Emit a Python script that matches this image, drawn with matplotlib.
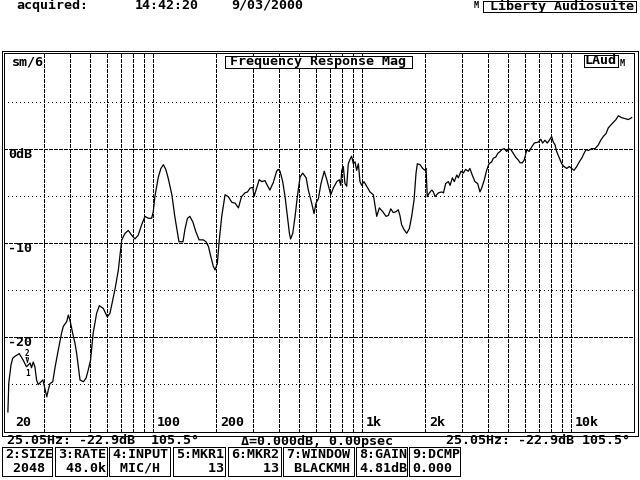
import matplotlib
matplotlib.use("Agg")
import matplotlib.pyplot as plt
from matplotlib.patches import Rectangle

# ---------------- data ----------------
freq_hz = [20.2, 20.4, 20.9, 21.3, 21.8, 22.9, 23.9, 24.8, 25.8, 26.2, 26.7, 27.2, 27.7, 28.2,
           28.8, 29.7, 30.2, 31.0, 31.5, 32.1, 33.1, 34.0, 35.2, 36.5, 37.2, 38.6, 39.3, 40.0,
           41.2, 42.3, 43.1, 43.9, 44.7, 46.4, 47.8, 49.0, 50.2, 51.7, 53.7, 55.3, 57.8, 60.4,
           62.2, 65.8, 68.2, 70.8, 73.4, 76.1, 79.0, 81.9, 84.9, 88.1, 91.5, 94.8, 98.4, 100.2,
           102, 106, 109, 112, 115, 118, 123, 127, 132, 133, 139, 142, 146, 150, 155, 160, 166,
           174, 179, 184, 189, 194, 198, 203, 207, 213, 221, 229, 238, 247, 256, 265, 275, 283,
           291, 300, 304, 313, 322, 331, 343, 352, 362, 376, 390, 397, 405, 417, 428, 439, 449,
           455, 466, 478, 490, 505, 520, 540, 553, 574, 589, 602, 618, 636, 659, 678, 708, 728,
           757, 778, 791, 799, 813, 828, 844, 859, 881, 891, 908, 925, 942, 960, 977, 996, 1021,
           1052, 1091, 1132, 1153, 1175, 1209, 1256, 1302, 1336, 1371, 1411, 1453, 1490, 1517,
           1546, 1587, 1635, 1683, 1727, 1772, 1812, 1838, 1893, 1950, 2000, 2023, 2051, 2098,
           2154, 2193, 2234, 2318, 2405, 2450, 2513, 2588, 2637, 2704, 2762, 2838, 2888, 2972,
           3048, 3130, 3221, 3281, 3365, 3467, 3572, 3664, 3733, 3845, 3945, 4047, 4170, 4248,
           4358, 4459, 4573, 4658, 4790, 4922, 5013, 5154, 5294, 5430, 5584, 5702, 5847, 5970,
           6138, 6295, 6486, 6668, 6970, 7160, 7310, 7500, 7690, 7870, 8070, 8220, 8380, 8530,
           8790, 9020, 9250, 9530, 9800, 10070, 10330, 10640, 10950, 11250, 11530, 11790, 12090,
           12550, 13010, 13500, 13860, 14260, 14690, 15060, 15470, 15920, 16400, 16830, 17460,
           18120, 18800, 19500]
level_db = [-28.0, -24.9, -23.0, -22.3, -22.1, -21.8, -22.5, -23.2, -22.8, -23.3, -22.7, -23.2,
            -24.6, -25.1, -24.9, -24.6, -25.3, -26.4, -25.7, -25.0, -24.8, -23.2, -21.4, -19.6,
            -18.9, -18.4, -17.7, -18.2, -19.6, -20.7, -21.8, -23.2, -24.6, -24.8, -24.4, -23.5,
            -22.5, -19.6, -17.5, -16.7, -17.0, -17.9, -17.5, -14.9, -12.9, -9.7, -9.0, -8.7,
            -9.2, -9.6, -9.2, -8.1, -7.2, -7.4, -7.4, -6.7, -5.1, -3.0, -2.1, -1.7, -2.2, -3.1,
            -4.9, -7.2, -9.4, -9.9, -9.9, -8.6, -7.4, -7.2, -7.8, -8.8, -9.7, -9.7, -9.9, -10.4,
            -11.5, -12.5, -12.9, -12.2, -9.9, -7.2, -4.9, -5.1, -5.7, -5.8, -6.3, -5.1, -4.7,
            -4.6, -4.2, -4.1, -5.1, -4.2, -3.3, -3.5, -3.4, -3.9, -4.4, -3.6, -2.4, -2.2, -2.4,
            -3.5, -5.1, -7.2, -9.0, -9.6, -9.0, -7.2, -5.1, -3.0, -2.6, -3.1, -4.4, -5.8, -6.9,
            -5.8, -5.3, -3.7, -2.4, -3.3, -4.9, -4.2, -3.5, -3.3, -3.9, -2.3, -1.9, -3.7, -4.0,
            -1.6, -1.0, -0.8, -1.6, -1.4, -2.3, -1.6, -3.5, -3.9, -3.5, -4.0, -4.6, -4.9, -6.0,
            -7.2, -6.3, -6.7, -7.2, -7.1, -6.4, -6.8, -6.7, -6.5, -7.1, -8.1, -8.6, -9.0, -8.5,
            -7.2, -5.5, -2.6, -1.6, -1.7, -2.1, -2.3, -2.1, -5.1, -4.7, -4.4, -4.6, -5.1, -4.7,
            -4.6, -4.7, -3.7, -3.5, -3.9, -3.1, -3.5, -2.8, -3.1, -2.4, -2.6, -2.2, -2.4, -2.1,
            -2.8, -3.5, -3.7, -4.6, -4.2, -3.3, -2.3, -1.6, -1.4, -1.0, -0.9, -0.5, -0.3, -0.1,
            0.0, -0.3, 0.0, -0.1, -0.5, -0.9, -1.2, -1.5, -1.5, -1.2, -0.1, -0.3, 0.2, 0.6, 0.7,
            1.0, 0.6, 0.9, 0.6, 0.9, 1.3, 0.7, 0.4, -0.3, -1.0, -1.6, -1.9, -2.1, -1.9, -2.1,
            -2.3, -1.9, -1.4, -1.0, -0.5, -0.1, -0.2, 0.0, 0.0, 0.4, 0.9, 1.3, 1.6, 2.2, 2.5,
            2.8, 3.1, 3.5, 3.3, 3.2, 3.1, 3.3]

major_db = [0, -10, -20]
major_labels = ["0dB", "-10", "-20"]
minor_db = [5, -5, -15, -25]
vgrid_hz = [30, 40, 50, 60, 70, 80, 90, 100, 200, 300, 400, 500, 600, 700, 800, 900,
            1000, 2000, 3000, 4000, 5000, 6000, 7000, 8000, 9000, 10000]
xlabel_hz = [20, 100, 200, 1000, 2000, 10000]
xlabel_txt = ["20", "100", "200", "1k", "2k", "10k"]
marker_hz = 25.05
marker_db = -22.9

header_left = ["acquired:", "14:42:20", "9/03/2000"]
brand = "Liberty Audiosuite"
plot_title = "Frequency Response Mag"
status_left = "25.05Hz: -22.9dB  105.5°"
status_mid = "Δ=0.000dB, 0.00psec"
status_right = "25.05Hz: -22.9dB 105.5°"
button_titles = ["2:SIZE", "3:RATE", "4:INPUT", "5:MKR1", "6:MKR2", "7:WINDOW", "8:GAIN", "9:DCMP"]
button_values = [" 2048", " 48.0k", " MIC/H", "    13", "    13", " BLACKMH", "4.81dB", "0.000"]

# ---------------- layout helpers (pixel coordinates) ----------------
W, H = 640, 480
def fx(px):
    return px / W
def fy(py):
    return 1 - py / H

FONT = dict(family="DejaVu Sans Mono", weight="bold", color="black")
FS = 9.6
LW = 0.72

fig = plt.figure(figsize=(6.4, 4.8), dpi=100, facecolor="white")

# plot area (inner frame)
x0, x1, y0, y1 = 4, 634, 53, 432
XL, XR, YB, YT = 19.35, 20000, -30.14, 10.18
ax = fig.add_axes([fx(x0), fy(y1), (x1 - x0) / W, (y1 - y0) / H])
ax.set_xscale("log")
ax.set_xlim(XL, XR)
ax.set_ylim(YB, YT)
ax.set_axis_off()

dash = (0, (3, 2))
dot = (0, (1, 3))
for v in vgrid_hz:
    ax.axvline(v, color="black", lw=LW, ls=dash, antialiased=False)
for v in major_db:
    ax.axhline(v, color="black", lw=LW, ls=dash, antialiased=False)
for v in minor_db:
    ax.axhline(v, color="black", lw=LW, ls=dot, antialiased=False)

ax.plot(freq_hz, level_db, color="black", lw=0.9)

for f, t in zip(xlabel_hz, xlabel_txt):
    ax.annotate(t, xy=(f, YB), xycoords="data", xytext=(4 if f > 20 else 8, 3),
                textcoords="offset pixels", ha="left", va="bottom", fontsize=FS, **FONT)
for v, t in zip(major_db, major_labels):
    ax.annotate(t, xy=(XL, v), xycoords="data", xytext=(4, 1),
                textcoords="offset pixels", ha="left", va="top", fontsize=FS, **FONT)

# markers (both at the same bin)
ax.annotate("2", xy=(marker_hz, marker_db), xytext=(0, 6), textcoords="offset pixels",
            ha="center", va="bottom", fontsize=5.5, **FONT)
ax.annotate("1", xy=(marker_hz, marker_db), xytext=(0, -5), textcoords="offset pixels",
            ha="center", va="top", fontsize=5.5, **FONT)
ax.plot([marker_hz * 0.987, marker_hz * 1.013, marker_hz, marker_hz * 0.987],
        [marker_db + 0.65, marker_db + 0.65, marker_db + 0.15, marker_db + 0.65],
        color="black", lw=LW)

# frames (double border)
def rect(xa, ya, xb, yb, lw=LW):
    r = Rectangle((fx(xa), fy(yb)), (xb - xa) / W, (yb - ya) / H, transform=fig.transFigure,
                  fill=False, edgecolor="black", lw=lw, antialiased=False)
    fig.add_artist(r)

rect(1.5, 50.5, 637.5, 435.5)
rect(x0, y0, x1, y1)

# plot title box and corner labels
fig.add_artist(Rectangle((fx(225), fy(68)), 187 / W, 12 / H, transform=fig.transFigure,
                         facecolor="white", edgecolor="none"))
fig.text(fx(318), fy(62), plot_title, ha="center", va="center", fontsize=FS, **FONT)
rect(225, 56, 412, 68)
fig.text(fx(12), fy(62), "sm/6", ha="left", va="center", fontsize=FS, **FONT)
fig.add_artist(Rectangle((fx(584), fy(67)), 34 / W, 12 / H, transform=fig.transFigure,
                         facecolor="white", edgecolor="none"))
fig.text(fx(601), fy(61), "LAud", ha="center", va="center", fontsize=FS, **FONT)
rect(584, 55, 618, 67)
fig.text(fx(620), fy(64), "M", ha="left", va="center", fontsize=6, **FONT)

# header
for t, px in zip(header_left, [16, 135, 231]):
    fig.text(fx(px), fy(-1), t, ha="left", va="top", fontsize=FS, **FONT)
fig.text(fx(474), fy(6), "M", ha="left", va="center", fontsize=6, **FONT)
fig.text(fx(490), fy(6), brand, ha="left", va="center", fontsize=FS, **FONT)
rect(483, 0.5, 635.5, 12)

# status line
fig.text(fx(7), fy(441), status_left, ha="left", va="center", fontsize=FS, **FONT)
fig.text(fx(241), fy(441), status_mid, ha="left", va="center", fontsize=FS, **FONT)
fig.text(fx(630), fy(441), status_right, ha="right", va="center", fontsize=FS, **FONT)

# buttons
bx = [(2, 52), (55, 107), (109, 170), (173, 225), (228, 281), (283, 354), (356, 407), (409, 460)]
for (xa, xb), t, v in zip(bx, button_titles, button_values):
    rect(xa, 447, xb, 476)
    fig.text(fx(xa + 3), fy(455), t, ha="left", va="center", fontsize=FS, **FONT)
    fig.text(fx(xa + 3), fy(468), v, ha="left", va="center", fontsize=FS, **FONT)

fig.savefig("out.png", dpi=100, facecolor="white")
